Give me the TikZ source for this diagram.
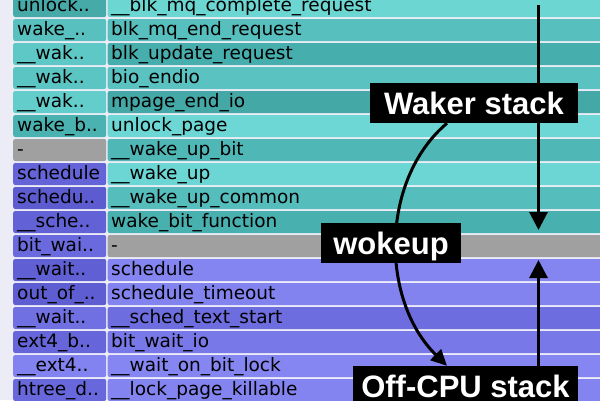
\documentclass[tikz,border=0pt]{standalone}
\usepackage{fontspec}
\setmainfont{DejaVu Sans}
\newfontfamily\labfont{Liberation Sans}
\usetikzlibrary{arrows.meta}
\pgfdeclarelayer{bg}
\pgfdeclarelayer{mid}
\pgfsetlayers{bg,mid,main}
% left column colours
\definecolor{lc0}{HTML}{45AAA8}
\definecolor{lc1}{HTML}{58C0BE}
\definecolor{lc2}{HTML}{5EC8C6}
\definecolor{lc3}{HTML}{5BC5C3}
\definecolor{lc4}{HTML}{62CDCB}
\definecolor{lc5}{HTML}{4AB2B0}
\definecolor{lc6}{HTML}{A0A0A0}
\definecolor{lc7}{HTML}{6464D8}
\definecolor{lc8}{HTML}{5C5CD0}
\definecolor{lc9}{HTML}{6262D6}
\definecolor{lc10}{HTML}{6A6ADE}
\definecolor{lc11}{HTML}{6060D4}
\definecolor{lc12}{HTML}{5E5ED2}
\definecolor{lc13}{HTML}{7070E2}
\definecolor{lc14}{HTML}{6666DA}
\definecolor{lc15}{HTML}{8282F0}
\definecolor{lc16}{HTML}{6868DC}
% right column colours
\definecolor{rc0}{HTML}{6CD6D3}
\definecolor{rc1}{HTML}{57BFBD}
\definecolor{rc2}{HTML}{46AEAC}
\definecolor{rc3}{HTML}{5AC3C1}
\definecolor{rc4}{HTML}{43A8A6}
\definecolor{rc5}{HTML}{6CD7D4}
\definecolor{rc6}{HTML}{4FB8B6}
\definecolor{rc7}{HTML}{6BD6D3}
\definecolor{rc8}{HTML}{55BEBC}
\definecolor{rc9}{HTML}{48B0AE}
\definecolor{rc10}{HTML}{A0A0A0}
\definecolor{rc11}{HTML}{8585F2}
\definecolor{rc12}{HTML}{8383F0}
\definecolor{rc13}{HTML}{6D6DDF}
\definecolor{rc14}{HTML}{7878E8}
\definecolor{rc15}{HTML}{8686F3}
\definecolor{rc16}{HTML}{8484F1}
\definecolor{bgcol}{HTML}{ECECF6}
\tikzset{
  cell/.style={rectangle, rounded corners=2pt, inner ysep=0pt, anchor=west,
    minimum height=22pt, text height=10pt, text depth=0pt, align=left,
    text=black, font=\fontsize{18.5}{20}\selectfont},
  lcell/.style={cell, inner xsep=4pt, text width=85pt},
  rcell/.style={cell, inner xsep=3.5pt, text width=495pt},
  lab/.style={rectangle, fill=black, text=white, inner sep=0pt,
    minimum height=40pt, text height=22pt, text depth=0pt,
    font=\labfont\bfseries\fontsize{31}{31}\selectfont},
  conn/.style={draw=black, line width=3pt},
  tipbig/.style={-{Triangle[length=18pt,width=18pt]}},
  tipcurve/.style={-{Triangle[length=16pt,width=15pt]}}
}
\begin{document}
\begin{tikzpicture}[x=1pt,y=-1pt]
\useasboundingbox (0,0) rectangle (600,400);
\clip (0,0) rectangle (600,400);
\begin{pgfonlayer}{bg}
\fill[bgcol] (0,0) rectangle (600,400);
\foreach \k/\lt/\rt in {
  0/unlock../\_\_blk\_mq\_complete\_request,
  1/wake\_../blk\_mq\_end\_request,
  2/\_\_wak../blk\_update\_request,
  3/\_\_wak../bio\_endio,
  4/\_\_wak../mpage\_end\_io,
  5/wake\_b../unlock\_page,
  6/-/\_\_wake\_up\_bit,
  7/schedule/\_\_wake\_up,
  8/schedu../\_\_wake\_up\_common,
  9/\_\_sche../wake\_bit\_function,
  10/bit\_wai../-,
  11/\_\_wait../schedule,
  12/out\_of\_../schedule\_timeout,
  13/\_\_wait../\_\_sched\_text\_start,
  14/ext4\_b../bit\_wait\_io,
  15/\_\_ext4../\_\_wait\_on\_bit\_lock,
  16/htree\_d../\_\_lock\_page\_killable}{
  \node[lcell, fill=lc\k] (l\k) at (13, 24*\k+6) {\lt};
  \node[rcell, fill=rc\k] (r\k) at (107.5, 24*\k+6) {\rt};
}
\end{pgfonlayer}
\node[lab, minimum width=208pt] (waker) at (474,103) {Waker stack};
\node[lab, minimum width=140pt] (wokeup) at (391,243) {wokeup};
\node[lab, minimum width=225pt] (offcpu) at (465.5,386) {Off-CPU stack};
\coordinate (vtop) at (538.5,5);
\coordinate (vtipA) at (538.5,230);
\coordinate (vtipB) at (538.5,260);
\coordinate (cx) at (447,0);
\begin{pgfonlayer}{mid}
\draw[conn, tipbig] (vtop) -- (vtipA);
\draw[conn, tipbig] (offcpu.north -| vtop) -- (vtipB);
\draw[conn, tipcurve] (waker.south -| cx) .. controls (380,180) and (380,300) .. (offcpu.north -| cx);
\end{pgfonlayer}
\end{tikzpicture}
\end{document}
